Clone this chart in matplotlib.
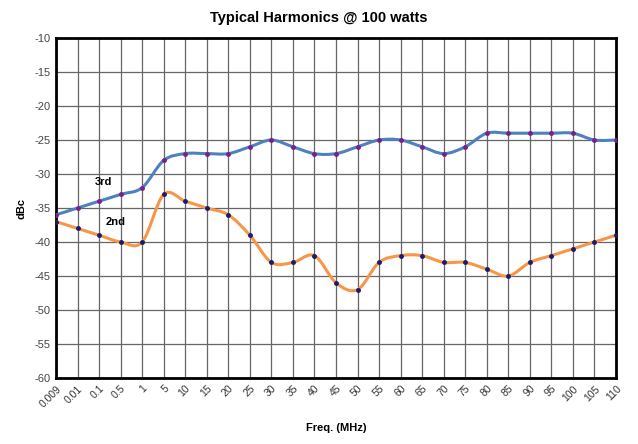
import matplotlib.pyplot as plt
from matplotlib.path import Path
from matplotlib.patches import PathPatch
import numpy as np

plt.rcParams['font.family'] = ['Liberation Sans', 'DejaVu Sans']

# dados
freqs = ['0.009', '0.01', '0.1', '0.5', '1', '5', '10', '15', '20', '25', '30',
         '35', '40', '45', '50', '55', '60', '65', '70', '75', '80', '85', '90',
         '95', '100', '105', '110']
third = [-36, -35, -34, -33, -32, -28, -27, -27, -27, -26, -25, -26, -27, -27,
         -26, -25, -25, -26, -27, -26, -24, -24, -24, -24, -24, -25, -25]
second = [-37, -38, -39, -40, -40, -33, -34, -35, -36, -39, -43, -43, -42, -46,
          -47, -43, -42, -42, -43, -43, -44, -45, -43, -42, -41, -40, -39]
yticks = list(range(-60, -9, 5))


def smooth_path(x, y):
    # curva suavizada estilo Excel (Catmull-Rom -> Bezier)
    p = np.column_stack([x, y]).astype(float)
    verts = [p[0]]
    codes = [Path.MOVETO]
    n = len(p)
    for i in range(n - 1):
        p0 = p[i - 1] if i > 0 else p[i]
        p1 = p[i]
        p2 = p[i + 1]
        p3 = p[i + 2] if i + 2 < n else p[i + 1]
        c1 = p1 + (p2 - p0) / 6
        c2 = p2 - (p3 - p1) / 6
        verts += [c1, c2, p2]
        codes += [Path.CURVE4] * 3
    return Path(verts, codes)


fig = plt.figure(figsize=(6.38, 4.44), dpi=100)
ax = fig.add_axes([0.0878, 0.1486, 0.8777, 0.7658])

x = np.arange(len(freqs))

for serie, cor, cor_m in [(third, '#4F81BD', '#7A1F8F'), (second, '#F79646', '#1A1A6E')]:
    ax.add_patch(PathPatch(smooth_path(x, serie), fill=False, edgecolor=cor,
                           lw=2.2, zorder=3))
    ax.plot(x, serie, ls='none', marker='o', ms=2.5, color=cor_m, zorder=4)

ax.set_xlim(0, len(freqs) - 1)
ax.set_ylim(-60, -10)
ax.set_xticks(x)
ax.set_xticklabels(freqs, rotation=45, ha='right', rotation_mode='anchor',
                   fontsize=7.5, color='#333333')
ax.set_yticks(yticks)
ax.set_yticklabels([str(v) for v in yticks], fontsize=8, color='#444444')
ax.tick_params(length=0, pad=4)
ax.grid(True, color='#666666', lw=0.9)
ax.set_axisbelow(True)
for s in ax.spines.values():
    s.set_linewidth(2)
    s.set_color('black')

ax.text(2.2, -31.2, '3rd', fontsize=8, fontweight='bold', ha='center', va='center')
ax.text(2.75, -37.1, '2nd', fontsize=8, fontweight='bold', ha='center', va='center')

ax.set_ylabel('dBc', fontsize=8, fontweight='bold', labelpad=6)
ax.set_xlabel('Freq. (MHz)', fontsize=8, fontweight='bold', labelpad=10)
fig.suptitle('Typical Harmonics @ 100 watts', fontsize=10.5, fontweight='bold', y=0.975)

fig.savefig('out.png', dpi=100, facecolor='white')
